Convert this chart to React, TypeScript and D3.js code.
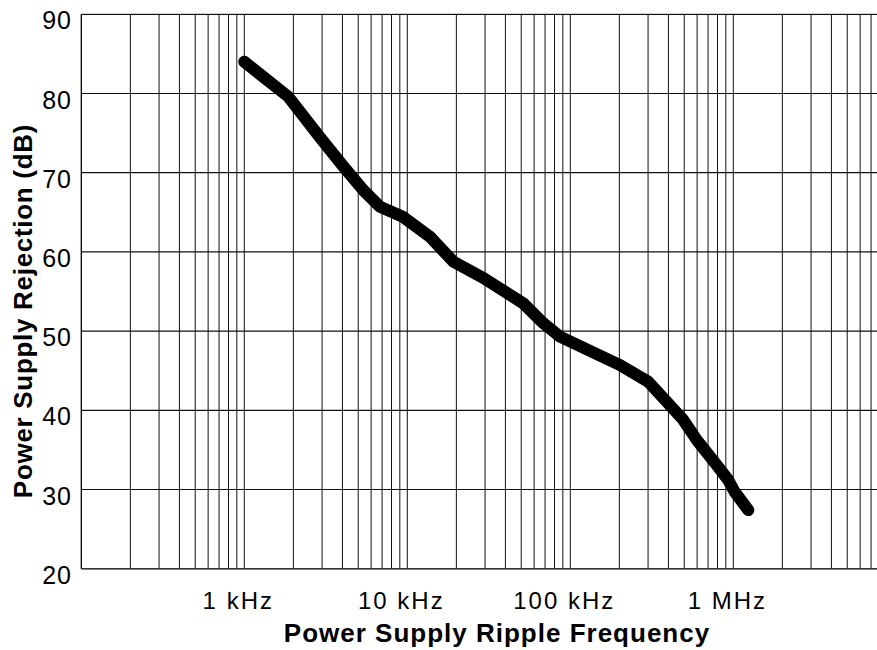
import React from "react";
import * as d3 from "d3";

// Power supply rejection vs ripple frequency
const freqHz: number[] = [
  1000, 1860, 2900, 4050, 5370, 6800, 9450, 13800, 19100, 29300, 51500,
  68300, 86400, 202000, 301000, 493000, 597000, 791000, 931000, 1020000, 1236000,
];
const psrDb: number[] = [
  84.0, 79.6, 74.5, 70.8, 67.8, 65.7, 64.4, 61.9, 58.8, 56.7, 53.5,
  51.0, 49.3, 45.7, 43.6, 38.8, 36.25, 33.1, 31.2, 29.7, 27.4,
];

const yTicks: number[] = [20, 30, 40, 50, 60, 70, 80, 90];
const xTickValues: number[] = [1000, 10000, 100000, 1000000];
const xTickLabels: string[] = ["1 kHz", "10 kHz", "100 kHz", "1 MHz"];
const xTitle = "Power Supply Ripple Frequency";
const yTitle = "Power Supply Rejection (dB)";

const W = 877;
const H = 650;
const left = 81.3;
const top = 14.3;
const bottom = 568.7;
const decadePx = 163;

export default function App() {
  const x = d3
    .scaleLog()
    .domain([100, 1e7])
    .range([left, left + 5 * decadePx]);
  const y = d3.scaleLinear().domain([20, 90]).range([bottom, top]);

  // minor grid: 1..9 per decade from 100 Hz to 10 MHz
  const gridX: number[] = [];
  for (let e = 2; e < 7; e++) {
    for (let m = 1; m <= 9; m++) {
      const v = m * Math.pow(10, e);
      if (v > 100) gridX.push(v);
    }
  }

  const data = freqHz.map((f, i) => [f, psrDb[i]] as [number, number]);
  const line = d3
    .line<[number, number]>()
    .x((d) => x(d[0]))
    .y((d) => y(d[1]))
    .curve(d3.curveLinear);

  const font = "'Liberation Sans', Arial, Helvetica, sans-serif";

  return (
    <svg
      width={W}
      height={H}
      style={{ position: "absolute", left: 0, top: 0, background: "#fff" }}
      fontFamily={font}
    >
      <defs>
        <clipPath id="plotClip">
          <rect x={left} y={top - 1} width={W - left} height={bottom - top + 2} />
        </clipPath>
      </defs>
      <g clipPath="url(#plotClip)">
        {gridX.map((v) => (
          <line
            key={"gx" + v}
            x1={x(v)}
            x2={x(v)}
            y1={top}
            y2={bottom}
            stroke="#111"
            strokeWidth={1}
          />
        ))}
        {yTicks.map((v) => (
          <line
            key={"gy" + v}
            x1={left}
            x2={W}
            y1={y(v)}
            y2={y(v)}
            stroke="#111"
            strokeWidth={1.2}
          />
        ))}
      </g>
      <line x1={left} x2={left} y1={top} y2={bottom} stroke="#000" strokeWidth={1.3} />
      <line x1={left} x2={W} y1={bottom} y2={bottom} stroke="#333" strokeWidth={1.6} />
      <path
        d={line(data) || ""}
        fill="none"
        stroke="#000"
        strokeWidth={12}
        strokeLinecap="round"
        strokeLinejoin="round"
      />
      {yTicks.map((v) => (
        <text
          key={"yl" + v}
          x={72}
          y={y(v) + 15}
          textAnchor="end"
          fontSize={25}
          letterSpacing={1}
          fill="#000"
        >
          {v}
        </text>
      ))}
      {xTickValues.map((v, i) => (
        <text
          key={"xl" + v}
          x={x(v) - 6}
          y={609}
          textAnchor="middle"
          fontSize={24}
          letterSpacing={2}
          fill="#000"
        >
          {xTickLabels[i]}
        </text>
      ))}
      <text
        x={497}
        y={642}
        textAnchor="middle"
        fontSize={26}
        fontWeight="bold"
        letterSpacing={1}
        fill="#000"
      >
        {xTitle}
      </text>
      <text
        transform={`translate(31.5, 311) rotate(-90)`}
        textAnchor="middle"
        fontSize={26}
        fontWeight="bold"
        letterSpacing={0.7}
        fill="#000"
      >
        {yTitle}
      </text>
    </svg>
  );
}
